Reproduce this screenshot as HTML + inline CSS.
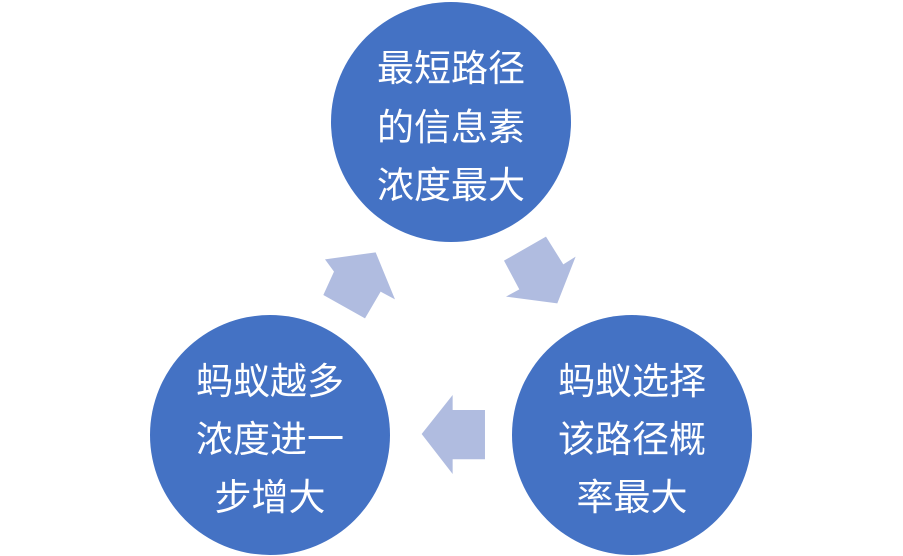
<!DOCTYPE html>
<html><head><meta charset="utf-8"><style>
html,body{margin:0;padding:0;background:#fff;}
svg{display:block}
text{font-family:"Liberation Sans","Noto Sans CJK SC",sans-serif;font-size:37px;fill:#fff;text-anchor:middle}
</style></head><body>
<svg width="903" height="556" viewBox="0 0 903 556">
<circle cx="451" cy="122" r="120" fill="#4472C4"/>
<circle cx="270" cy="435" r="120" fill="#4472C4"/>
<circle cx="632" cy="435" r="120" fill="#4472C4"/>
<g fill="#B0BCE0" transform="translate(310,230) scale(0.3333)">
<polygon points="197,67 45,88 72,125 40,195 165,265 212,185 255,208"/>
<polygon points="582,92 708,20 760,103 797,80 742,220 588,200 628,178"/>
<polygon points="335,612 428,495 428,540 525,540 525,688 428,688 428,732"/>
</g>
<text x="451" y="81">最短路径</text>
<text x="451" y="140">的信息素</text>
<text x="451" y="198">浓度最大</text>
<text x="270" y="394">蚂蚁越多</text>
<text x="270" y="452">浓度进一</text>
<text x="270" y="510">步增大</text>
<text x="632" y="394">蚂蚁选择</text>
<text x="632" y="452">该路径概</text>
<text x="632" y="510">率最大</text>
</svg>
</body></html>
